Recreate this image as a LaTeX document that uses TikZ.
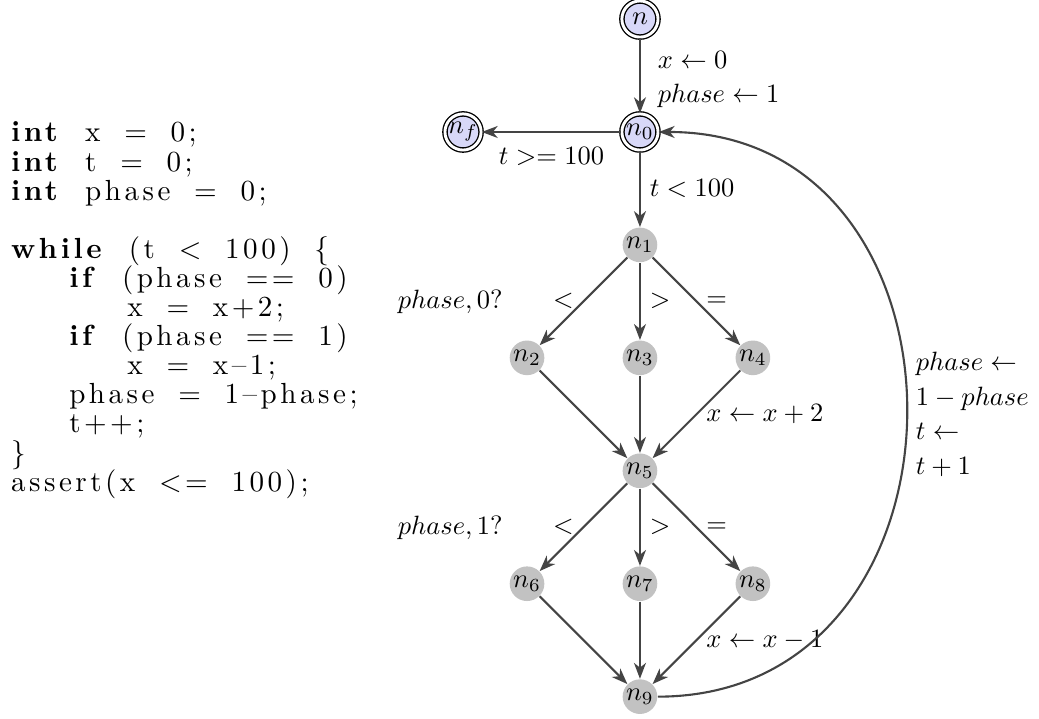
\documentclass[tikz,border=0pt]{standalone}
\usepackage{fontspec}
\usetikzlibrary{arrows.meta}
\newfontfamily\codefont[LetterSpace=12, WordSpace=1.8]{Latin Modern Roman}
\definecolor{statefill}{HTML}{D8D8F8}
\definecolor{locfill}{HTML}{C2C2C2}
\definecolor{edgecol}{HTML}{444444}
\newlength{\ind}
\setlength{\ind}{22pt}

\tikzset{
  endstate/.style={circle, draw=black, double, double distance=1.1pt, line width=0.5pt, fill=statefill, inner sep=0pt, minimum size=0.48cm},
  loc/.style={circle, fill=locfill, inner sep=0pt, minimum size=0.46cm},
  trans/.style={->, thick, draw=edgecol},
  codetext/.style={font={\codefont\fontsize{11}{11}\selectfont\lineskiplimit=-20pt}},
}

\begin{document}
\begin{tikzpicture}[>={Stealth[length=6pt, width=4.5pt, inset=1.8pt]}]
    \useasboundingbox (-8.5,-7.795) rectangle (5.3,1.753);

    % states
    \node[endstate] (n)  at (0,1.5)    {$n$};
    \node[endstate] (n0) at (0,0)      {$n_0$};
    \node[endstate] (nf) at (-2.35,0)  {$n_f$};
    \node[loc] (n1) at (0,-1.5)  {$n_1$};
    \node[loc] (n2) at (-1.5,-3) {$n_2$};
    \node[loc] (n3) at (0,-3)    {$n_3$};
    \node[loc] (n4) at (1.5,-3)  {$n_4$};
    \node[loc] (n5) at (0,-4.5)  {$n_5$};
    \node[loc] (n6) at (-1.5,-6) {$n_6$};
    \node[loc] (n7) at (0,-6)    {$n_7$};
    \node[loc] (n8) at (1.5,-6)  {$n_8$};
    \node[loc] (n9) at (0,-7.5)  {$n_9$};

    % init and loop head
    \draw[trans] (n) -- node[right=3pt, yshift=-1.5pt, align=left] {$x \leftarrow 0$\\[1pt]$phase \leftarrow 1$} (n0);
    \draw[trans] (n0) -- node[below=2pt] {$t >= 100$} (nf);
    \draw[trans] (n0) -- node[right] {$t < 100$} (n1);

    % first choice
    \node (sel0) at (-2.52,-2.26) {$phase, 0?$};
    \draw[trans] (n1) -- node[left] {$<$} (n2);
    \draw[trans] (n1) -- node[right] {$>$} (n3);
    \draw[trans] (n1) -- node[right] {$=$} (n4);
    \draw[trans] (n2) -- (n5);
    \draw[trans] (n3) -- (n5);
    \draw[trans] (n4) -- node[right] {$x \leftarrow x + 2$} (n5);

    % second choice
    \node (sel1) at (-2.52,-5.26) {$phase, 1?$};
    \draw[trans] (n5) -- node[left] {$<$} (n6);
    \draw[trans] (n5) -- node[right] {$>$} (n7);
    \draw[trans] (n5) -- node[right] {$=$} (n8);
    \draw[trans] (n6) -- (n9);
    \draw[trans] (n7) -- (n9);
    \draw[trans] (n8) -- node[right] {$x \leftarrow x - 1$} (n9);

    % back edge
    \draw[trans] (n9) to[out=0, in=0, looseness=1.5]
        node[right, align=left] {$phase \leftarrow$\\[1pt]$1 - phase$\\[1pt]$t \leftarrow$\\[1pt]$t + 1$} (n0);

    % program text
    \node[codetext, anchor=north west, inner sep=0pt, align=left] (code) at (-8.36,0.14) {%
        \textbf{int} x = 0;\\
        \textbf{int} t = 0;\\
        \textbf{int} phase = 0;\\
        \mbox{}\\
        \textbf{while} (t < 100) \{\\
        \hspace*{\ind}\textbf{if} (phase == 0)\\
        \hspace*{2\ind}x = x+2;\\
        \hspace*{\ind}\textbf{if} (phase == 1)\\
        \hspace*{2\ind}x = x\textendash1;\\
        \hspace*{\ind}phase = 1\textendash phase;\\
        \hspace*{\ind}t++;\\
        \}\\
        assert(x <= 100);};
\end{tikzpicture}
\end{document}
